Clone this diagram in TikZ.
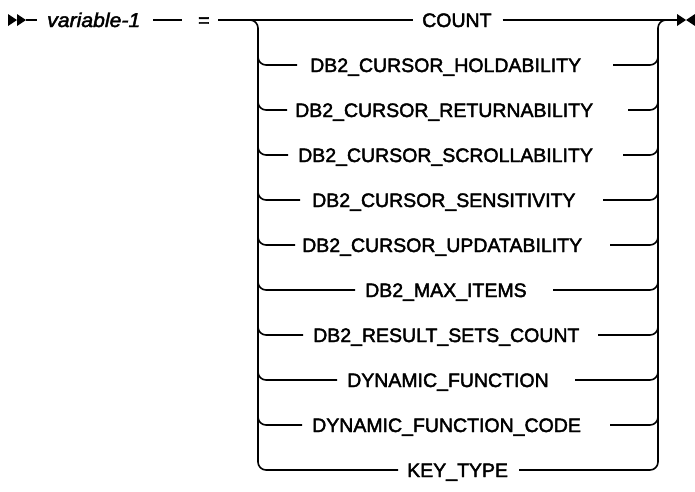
\documentclass[tikz,border=0pt]{standalone}
\usepackage{fontspec}
\usetikzlibrary{calc}
\setmainfont[FakeBold=2.2]{Liberation Sans}
\newfontfamily\varfont[FakeBold=2.2,FakeStretch=1.06]{Liberation Sans}
\begin{document}
\begin{tikzpicture}[x=1pt,y=-1pt]
\tikzset{
  ln/.style={line width=1.6pt, rounded corners=8pt},
  mainln/.style={line width=1.6pt},
  lbl/.style={inner sep=0pt, anchor=base west, font=\fontsize{19.5}{22}\selectfont},
  tipmark/.style={fill=black, draw=none},
}
\useasboundingbox (0,0) rectangle (695,491);
% start marker
\fill[tipmark] (8,14) -- (17,20) -- (8,26) -- cycle;
\fill[tipmark] (17,14) -- (26,20) -- (17,26) -- cycle;
\coordinate (st) at (26,20);
\node[lbl, font=\varfont\fontsize{20}{22}\selectfont\itshape] (var) at (47,27) {variable-1};
\node[lbl] (eq) at (198,27) {=};
\draw[mainln] (st) -- (37,20);
\draw[mainln] (153,20) -- (182,20);
% first row COUNT on the main line
\node[lbl] (n1) at (422,27) {COUNT};
\draw[mainln] (218,20) -- (413,20);
\draw[mainln] let \p1=(n1.east), \n1={max(\x1+11,502)} in (\n1,20) -- (677,20);
% left and right rails with last row
\node[lbl] (n11) at (407,477) {KEY\_TYPE};
\draw[ln] (240,20) -- (258,20) -- (258,470) -- (398,470);
\draw[ln] let \p1=(n11.east), \n1={max(\x1+11,515)} in (\n1,470) -- (658,470) -- (658,20) -- (668,20);
% middle rows
\foreach \i/\yy/\tl/\le/\rs/\txt in {
  2/65/310/297/613/DB2\_CURSOR\_HOLDABILITY,
  3/110/295/287/628/DB2\_CURSOR\_RETURNABILITY,
  4/155/298/288/623/DB2\_CURSOR\_SCROLLABILITY,
  5/200/312/300/603/DB2\_CURSOR\_SENSITIVITY,
  6/245/302/295/610/DB2\_CURSOR\_UPDATABILITY,
  7/290/365/355/553/DB2\_MAX\_ITEMS,
  8/335/313/303/598/DB2\_RESULT\_SETS\_COUNT,
  9/380/347/337/575/DYNAMIC\_FUNCTION,
  10/425/312/302/610/DYNAMIC\_FUNCTION\_CODE}{
  \node[lbl] (n\i) at (\tl,\yy+7) {\txt};
  \draw[ln] (258,\yy-16) -- (258,\yy) -- (\le,\yy);
  \draw[ln] let \p1=(n\i.east), \n1={max(\x1+11,\rs)} in (\n1,\yy) -- (658,\yy) -- (658,\yy-16);
}
% end marker
\fill[tipmark] (677,14) -- (686,20) -- (677,26) -- cycle;
\fill[tipmark] (695,14) -- (686,20) -- (695,26) -- cycle;
\end{tikzpicture}
\end{document}
